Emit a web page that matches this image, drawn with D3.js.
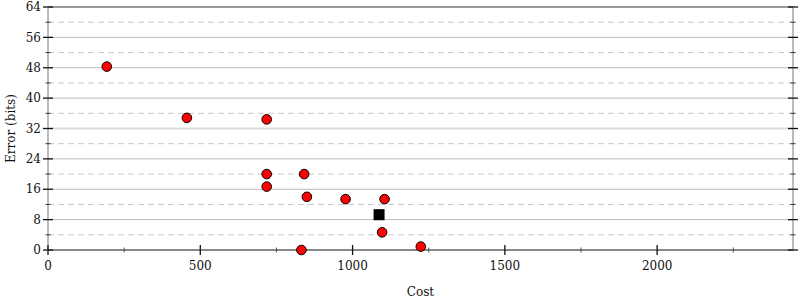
<!DOCTYPE html>
<html><head><meta charset="utf-8">
<script src="https://cdn.jsdelivr.net/npm/d3@7"></script>
<style>body{margin:0;background:#fff}svg{display:block}svg text{font-family:"DejaVu Serif","Liberation Serif","Times New Roman",Times,serif}</style>
</head><body><svg id="c" width="800" height="300"></svg>
<script>
const costs  = [193, 456, 718, 718, 718, 841, 850, 977, 1105, 1097, 832, 1224];
const errors = [48.3, 34.8, 34.4, 20.0, 16.7, 20.0, 14.0, 13.4, 13.4, 4.65, 0.0, 0.9];
const startCost = [1087];
const startError = [9.3];
const xTicks = [0, 500, 1000, 1500, 2000];
const xMinor = [250, 750, 1250, 1750, 2250];
const yTicks = [0, 8, 16, 24, 32, 40, 48, 56, 64];
const yMinor = [4, 12, 20, 28, 36, 44, 52, 60];

const svg = d3.select("#c");
const L = 48, R = 793, T = 7, B = 250;
const x = d3.scaleLinear().domain([0, 2446]).range([L, R]);
const y = d3.scaleLinear().domain([0, 64]).range([B, T]);

// grid
svg.append("g").selectAll("line").data(yMinor).join("line")
  .attr("x1", L).attr("x2", R).attr("y1", d => y(d)).attr("y2", d => y(d))
  .attr("stroke", "#c8c8c8").attr("stroke-dasharray", "6,4").attr("stroke-width", 1);
svg.append("g").selectAll("line").data(yTicks.filter(d => d > 0 && d < 64)).join("line")
  .attr("x1", L).attr("x2", R).attr("y1", d => y(d)).attr("y2", d => y(d))
  .attr("stroke", d => d === 32 ? "#ddd" : "#bbb").attr("stroke-width", d => d === 32 ? 2 : 1);

// frame
svg.append("line").attr("x1", L).attr("x2", L).attr("y1", T).attr("y2", B).attr("stroke", "#bbb").attr("stroke-width", 2);
svg.append("line").attr("x1", R).attr("x2", R).attr("y1", T).attr("y2", B).attr("stroke", "#bbb").attr("stroke-width", 2);
svg.append("line").attr("x1", L).attr("x2", R).attr("y1", y(64)).attr("y2", y(64)).attr("stroke", "#999").attr("stroke-width", 2);
svg.append("line").attr("x1", L).attr("x2", R).attr("y1", y(0)).attr("y2", y(0)).attr("stroke", "#888").attr("stroke-width", 2);

// y ticks
const yt = svg.append("g");
[L, R].forEach(ax => {
  yt.append("g").selectAll("line").data(yTicks).join("line")
    .attr("x1", ax - 5).attr("x2", ax + 5).attr("y1", d => y(d)).attr("y2", d => y(d))
    .attr("stroke", "#111").attr("stroke-width", 1.3);
  yt.append("g").selectAll("line").data(yMinor).join("line")
    .attr("x1", ax - 2.5).attr("x2", ax + 2.5).attr("y1", d => y(d)).attr("y2", d => y(d))
    .attr("stroke", "#333").attr("stroke-width", 1);
});
yt.selectAll("text").data(yTicks).join("text")
  .attr("x", 41).attr("y", d => y(d)).attr("dy", "0.35em").attr("text-anchor", "end")
  .attr("font-size", 12).attr("fill", "#111").text(d => d);

// x ticks
const xt = svg.append("g");
xt.append("g").selectAll("line").data(xTicks).join("line")
  .attr("x1", d => x(d)).attr("x2", d => x(d)).attr("y1", B - 5).attr("y2", B + 5)
  .attr("stroke", "#111").attr("stroke-width", 1.3);
xt.append("g").selectAll("line").data(xMinor).join("line")
  .attr("x1", d => x(d)).attr("x2", d => x(d)).attr("y1", B - 2.5).attr("y2", B + 2.5)
  .attr("stroke", "#555").attr("stroke-width", 1);
xt.selectAll("text").data(xTicks).join("text")
  .attr("x", d => x(d)).attr("y", 269.5).attr("text-anchor", "middle")
  .attr("font-size", 12).attr("fill", "#111").text(d => d);

// labels
svg.append("text").attr("x", (L + R) / 2).attr("y", 296).attr("text-anchor", "middle")
  .attr("font-size", 12).attr("fill", "#111").text("Cost");
svg.append("text").attr("transform", `translate(14.5,${(T + B) / 2}) rotate(-90)`)
  .attr("text-anchor", "middle").attr("font-size", 12).attr("fill", "#111").text("Error (bits)");

// points
svg.append("g").selectAll("circle").data(costs.map((c, i) => [c, errors[i]])).join("circle")
  .attr("cx", d => x(d[0])).attr("cy", d => y(d[1])).attr("r", 4.8)
  .attr("fill", "red").attr("stroke", "#000").attr("stroke-width", 1);
svg.append("g").selectAll("rect").data(startCost.map((c, i) => [c, startError[i]])).join("rect")
  .attr("x", d => x(d[0]) - 5.5).attr("y", d => y(d[1]) - 5.5).attr("width", 11).attr("height", 11)
  .attr("fill", "#000");
</script></body></html>
